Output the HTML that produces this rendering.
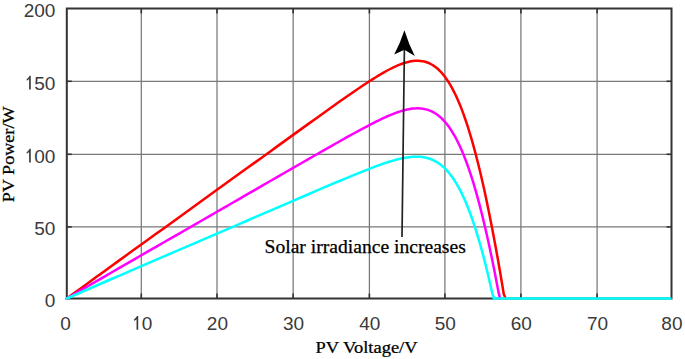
<!DOCTYPE html>
<html><head><meta charset="utf-8"><style>
html,body{margin:0;padding:0;background:#fff;}
body{width:685px;height:359px;overflow:hidden;}
svg{display:block;}
.tk{font-family:"Liberation Sans",sans-serif;font-size:19px;fill:#3a3a3a;}
.tt{font-family:"Liberation Serif",serif;fill:#000;stroke:#000;stroke-width:0.25px;}
</style></head><body>
<svg width="685" height="359" viewBox="0 0 685 359">
<rect width="685" height="359" fill="#fff"/>
<g transform="translate(0.5,0.5)">
<g stroke="#787878" stroke-width="1.25" fill="none"><line x1="140.8" y1="8" x2="140.8" y2="298"/><line x1="216.5" y1="8" x2="216.5" y2="298"/><line x1="292.65" y1="8" x2="292.65" y2="298"/><line x1="368.9" y1="8" x2="368.9" y2="298"/><line x1="444.4" y1="8" x2="444.4" y2="298"/><line x1="520.4" y1="8" x2="520.4" y2="298"/><line x1="596.6" y1="8" x2="596.6" y2="298"/><line x1="66.3" y1="226.4" x2="671" y2="226.4"/><line x1="66.3" y1="153.8" x2="671" y2="153.8"/><line x1="66.3" y1="80.8" x2="671" y2="80.8"/></g>
<g stroke="#333333" stroke-width="1.6" fill="none"><line x1="140.8" y1="298" x2="140.8" y2="293"/><line x1="140.8" y1="8" x2="140.8" y2="13"/><line x1="216.5" y1="298" x2="216.5" y2="293"/><line x1="216.5" y1="8" x2="216.5" y2="13"/><line x1="292.65" y1="298" x2="292.65" y2="293"/><line x1="292.65" y1="8" x2="292.65" y2="13"/><line x1="368.9" y1="298" x2="368.9" y2="293"/><line x1="368.9" y1="8" x2="368.9" y2="13"/><line x1="444.4" y1="298" x2="444.4" y2="293"/><line x1="444.4" y1="8" x2="444.4" y2="13"/><line x1="520.4" y1="298" x2="520.4" y2="293"/><line x1="520.4" y1="8" x2="520.4" y2="13"/><line x1="596.6" y1="298" x2="596.6" y2="293"/><line x1="596.6" y1="8" x2="596.6" y2="13"/><line x1="66.3" y1="226.4" x2="71.3" y2="226.4"/><line x1="671" y1="226.4" x2="666" y2="226.4"/><line x1="66.3" y1="153.8" x2="71.3" y2="153.8"/><line x1="671" y1="153.8" x2="666" y2="153.8"/><line x1="66.3" y1="80.8" x2="71.3" y2="80.8"/><line x1="671" y1="80.8" x2="666" y2="80.8"/></g>
<rect x="66.3" y="8" width="604.70" height="290.00" fill="none" stroke="#333333" stroke-width="2"/>
<g fill="none" stroke-width="2.5" stroke-linejoin="round" stroke-linecap="round">
<path d="M66.30,298.00 L73.75,292.59 L81.20,287.18 L88.65,281.77 L96.10,276.36 L103.55,270.95 L111.00,265.54 L118.45,260.13 L125.90,254.72 L133.35,249.31 L140.80,243.90 L148.37,238.49 L155.94,233.08 L163.51,227.67 L171.08,222.20 L178.65,216.72 L186.22,211.23 L193.79,205.75 L201.36,200.26 L208.93,194.78 L216.50,189.29 L224.12,183.81 L231.73,178.32 L239.34,172.84 L246.96,167.35 L254.57,161.87 L262.19,156.39 L269.81,150.89 L277.42,145.38 L285.03,139.87 L292.65,134.37 L300.27,128.87 L307.90,123.38 L315.52,117.90 L323.15,112.44 L330.77,107.00 L338.40,101.60 L346.02,96.25 L353.65,90.98 L361.27,85.81 L368.90,80.80 L370.79,79.59 L372.67,78.38 L374.56,77.20 L376.45,76.03 L378.34,74.88 L380.22,73.75 L382.11,72.65 L384.00,71.57 L385.89,70.52 L387.77,69.50 L389.66,68.51 L391.55,67.56 L393.44,66.65 L395.32,65.78 L397.21,64.95 L399.10,64.18 L400.99,63.46 L402.88,62.80 L404.76,62.20 L406.65,61.67 L408.54,61.22 L410.42,60.84 L412.31,60.55 L414.20,60.36 L416.09,60.26 L417.97,60.27 L419.86,60.40 L421.75,60.64 L423.64,61.02 L425.52,61.53 L427.41,62.20 L429.30,63.01 L431.19,64.00 L433.07,65.15 L434.96,66.50 L436.85,68.03 L438.74,69.77 L440.62,71.72 L442.51,73.89 L444.40,76.29 L446.30,78.92 L448.20,81.81 L450.10,84.96 L452.00,88.38 L453.90,92.06 L455.80,96.03 L457.70,100.28 L459.60,104.82 L461.50,109.65 L463.40,114.79 L465.30,120.23 L467.20,125.98 L469.10,132.05 L471.00,138.43 L472.90,145.12 L474.80,152.13 L476.70,159.44 L478.60,167.05 L480.50,174.98 L482.40,183.23 L484.30,191.80 L486.20,200.68 L488.10,209.88 L490.00,219.39 L491.90,229.18 L493.80,239.18 L495.70,249.48 L497.60,260.09 L499.50,271.00 L501.40,282.20 L503.30,293.70 L505.20,298.00" stroke="#ff0000"/>
<path d="M66.30,298.00 L73.75,293.67 L81.20,289.34 L88.65,285.02 L96.10,280.69 L103.55,276.36 L111.00,272.03 L118.45,267.70 L125.90,263.38 L133.35,259.05 L140.80,254.72 L148.37,250.39 L155.94,246.07 L163.51,241.74 L171.08,237.41 L178.65,233.08 L186.22,228.75 L193.79,224.40 L201.36,220.01 L208.93,215.62 L216.50,211.23 L224.12,206.85 L231.73,202.46 L239.34,198.07 L246.96,193.68 L254.57,189.30 L262.19,184.91 L269.81,180.52 L277.42,176.14 L285.03,171.76 L292.65,167.38 L300.27,163.00 L307.90,158.63 L315.52,154.27 L323.15,149.91 L330.77,145.55 L338.40,141.23 L346.02,136.95 L353.65,132.72 L361.27,128.58 L368.90,124.55 L370.79,123.57 L372.67,122.60 L374.56,121.65 L376.45,120.70 L378.34,119.77 L380.22,118.86 L382.11,117.97 L384.00,117.10 L385.89,116.25 L387.77,115.42 L389.66,114.62 L391.55,113.85 L393.44,113.10 L395.32,112.39 L397.21,111.72 L399.10,111.09 L400.99,110.50 L402.88,109.96 L404.76,109.46 L406.65,109.03 L408.54,108.65 L410.42,108.34 L412.31,108.09 L414.20,107.93 L416.09,107.84 L417.97,107.84 L419.86,107.93 L421.75,108.13 L423.64,108.43 L425.52,108.85 L427.41,109.40 L429.30,110.07 L431.19,110.89 L433.07,111.86 L434.96,112.98 L436.85,114.27 L438.74,115.74 L440.62,117.39 L442.51,119.25 L444.40,121.30 L446.30,123.57 L448.20,126.07 L450.10,128.80 L452.00,131.77 L453.90,134.99 L455.80,138.47 L457.70,142.22 L459.60,146.24 L461.50,150.55 L463.40,155.13 L465.30,160.00 L467.20,165.15 L469.10,170.61 L471.00,176.38 L472.90,182.46 L474.80,188.86 L476.70,195.57 L478.60,202.59 L480.50,209.94 L482.40,217.61 L484.30,225.60 L486.20,233.81 L488.10,242.33 L490.00,251.16 L491.90,260.31 L493.80,269.78 L495.70,279.55 L497.60,289.64 L499.50,298.00" stroke="#ff00ff"/>
<path d="M66.30,298.00 L73.75,294.75 L81.20,291.51 L88.65,288.26 L96.10,285.02 L103.55,281.77 L111.00,278.52 L118.45,275.28 L125.90,272.03 L133.35,268.79 L140.80,265.54 L148.37,262.29 L155.94,259.05 L163.51,255.80 L171.08,252.56 L178.65,249.31 L186.22,246.07 L193.79,242.82 L201.36,239.57 L208.93,236.33 L216.50,233.08 L224.12,229.84 L231.73,226.59 L239.34,223.30 L246.96,220.01 L254.57,216.72 L262.19,213.43 L269.81,210.14 L277.42,206.85 L285.03,203.57 L292.65,200.28 L300.27,197.00 L307.90,193.73 L315.52,190.46 L323.15,187.20 L330.77,183.95 L338.40,180.73 L346.02,177.54 L353.65,174.39 L361.27,171.30 L368.90,168.31 L370.79,167.58 L372.67,166.86 L374.56,166.15 L376.45,165.45 L378.34,164.76 L380.22,164.09 L382.11,163.42 L384.00,162.78 L385.89,162.15 L387.77,161.54 L389.66,160.95 L391.55,160.38 L393.44,159.84 L395.32,159.32 L397.21,158.83 L399.10,158.37 L400.99,157.94 L402.88,157.55 L404.76,157.21 L406.65,156.90 L408.54,156.64 L410.42,156.43 L412.31,156.28 L414.20,156.19 L416.09,156.17 L417.97,156.21 L419.86,156.33 L421.75,156.53 L423.64,156.82 L425.52,157.20 L427.41,157.69 L429.30,158.28 L431.19,158.99 L433.07,159.83 L434.96,160.80 L436.85,161.91 L438.74,163.17 L440.62,164.59 L442.51,166.18 L444.40,167.94 L446.30,169.90 L448.20,172.05 L450.10,174.41 L452.00,176.98 L453.90,179.78 L455.80,182.81 L457.70,186.09 L459.60,189.62 L461.50,193.41 L463.40,197.48 L465.30,201.81 L467.20,206.43 L469.10,211.34 L471.00,216.55 L472.90,222.05 L474.80,227.85 L476.70,233.89 L478.60,240.24 L480.50,246.90 L482.40,253.88 L484.30,261.17 L486.20,268.79 L488.10,276.72 L490.00,284.98 L491.90,293.55 L493.80,298.00" stroke="#00ffff"/>
</g>
<line x1="492" y1="298" x2="671" y2="298" stroke="#00ffff" stroke-width="2.5"/>
<g class="tk"><text x="59.82" y="329.30">0</text><path transform="translate(130.63,329.30) scale(0.00928,-0.00928)" d="M763 0H583V1147Q528 1090 448 1040T320 975V1135Q420 1190 500 1290T644 1480H763V0Z"/><text x="141.20" y="329.30">0</text><text x="206.33" y="329.30">2</text><text x="216.90" y="329.30">0</text><text x="282.48" y="329.30">3</text><text x="293.05" y="329.30">0</text><text x="358.73" y="329.30">4</text><text x="369.30" y="329.30">0</text><text x="434.23" y="329.30">5</text><text x="444.80" y="329.30">0</text><text x="510.23" y="329.30">6</text><text x="520.80" y="329.30">0</text><text x="586.43" y="329.30">7</text><text x="597.00" y="329.30">0</text><text x="660.83" y="329.30">8</text><text x="671.40" y="329.30">0</text><text x="44.33" y="306.30">0</text><text x="33.77" y="234.70">5</text><text x="44.33" y="234.70">0</text><path transform="translate(23.20,162.10) scale(0.00928,-0.00928)" d="M763 0H583V1147Q528 1090 448 1040T320 975V1135Q420 1190 500 1290T644 1480H763V0Z"/><text x="33.77" y="162.10">0</text><text x="44.33" y="162.10">0</text><path transform="translate(23.20,89.10) scale(0.00928,-0.00928)" d="M763 0H583V1147Q528 1090 448 1040T320 975V1135Q420 1190 500 1290T644 1480H763V0Z"/><text x="33.77" y="89.10">5</text><text x="44.33" y="89.10">0</text><text x="23.20" y="16.30">2</text><text x="33.77" y="16.30">0</text><text x="44.33" y="16.30">0</text></g>
<line x1="401.5" y1="236.6" x2="403.9" y2="48" stroke="#222" stroke-width="1.7"/>
<path d="M403.9,29.8 Q408.2,43.6 414.3,55.6 L403.9,49.2 L393.7,54.1 Q399.7,42.8 403.9,29.8 Z" fill="#000"/>
<text class="tt" x="264" y="252.2" font-size="19.6px">Solar irradiance increases</text>
<text class="tt" transform="translate(315,352) scale(1.1,1)" font-size="16.8px">PV Voltage/V</text>
<text class="tt" transform="translate(13.4,201.8) rotate(-90) scale(1.08,1)" font-size="16.8px">PV Power/W</text>
</g>
</svg>
</body></html>
